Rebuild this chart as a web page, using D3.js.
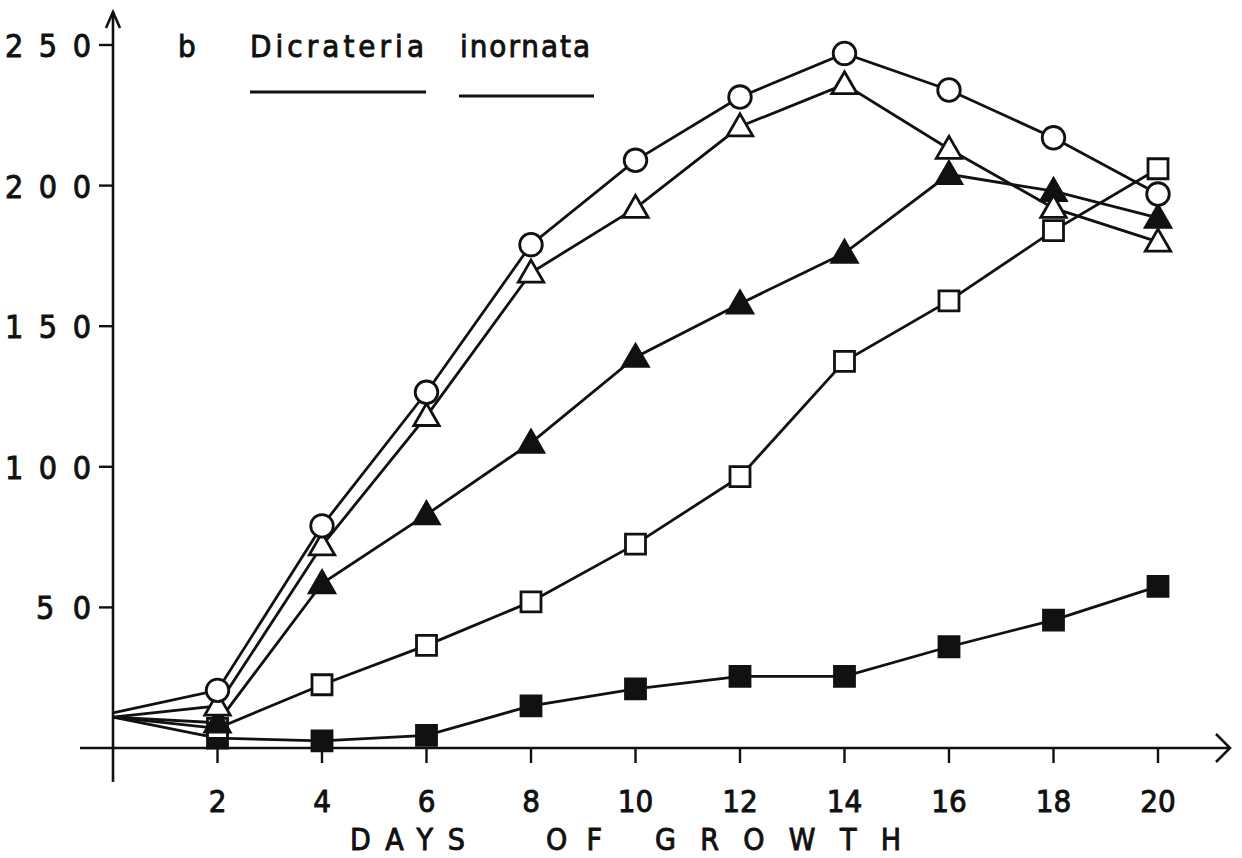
<!DOCTYPE html>
<html>
<head>
<meta charset="utf-8">
<script src="https://cdn.jsdelivr.net/npm/d3@7"></script>
<style>
	body { margin: 0; background: #fff; }
	svg { display: block; }
	text { font-family: "DejaVu Sans Condensed", "Liberation Sans Narrow", "DejaVu Sans", sans-serif; fill: #111; stroke: #111; stroke-width: 0.9; }
</style>
</head>
<body>
<div id="chart"></div>
<script>
// days of growth (0 = inoculum)
const days = [0, 2, 4, 6, 8, 10, 12, 14, 16, 18, 20];

const openCircle   = [12.5, 20.5, 79, 126.5, 179, 209, 231.5, 247, 234, 217, 197];
const openTriangle = [11, 15, 72, 118, 169, 192, 221, 236, 213, 192, 180];
const fullTriangle = [11, 9, 58.5, 83, 108.5, 139, 158, 176, 204, 198, 188.5];
const openSquare   = [11, 7, 22.5, 36.5, 52, 72.5, 96.5, 137.5, 159, 184, 206];
const fullSquare   = [11, 3.5, 2.5, 4.5, 15, 21, 25.5, 25.5, 36, 45.5, 57.5];

const xTicks = [2, 4, 6, 8, 10, 12, 14, 16, 18, 20];
const yTicks = [50, 100, 150, 200, 250];

const series = [
	{ name: 'full square', values: fullSquare, shape: d3.symbolSquare, fill: '#111' },
	{ name: 'open square', values: openSquare, shape: d3.symbolSquare, fill: '#fff' },
	{ name: 'full triangle', values: fullTriangle, shape: d3.symbolTriangle, fill: '#111' },
	{ name: 'open triangle', values: openTriangle, shape: d3.symbolTriangle, fill: '#fff' },
	{ name: 'open circle', values: openCircle, shape: d3.symbolCircle, fill: '#fff' }
];

const width = 1242, height = 858;
const ink = '#111';

const x = d3.scaleLinear().domain([0, 20]).range([113, 1158]);
const y = d3.scaleLinear().domain([0, 250]).range([748, 45]);

const svg = d3.select('#chart')
	.append('svg')
	.attr('width', width)
	.attr('height', height);

// axes lines with arrows
svg.append('line')
	.attr('x1', 80).attr('x2', 1230)
	.attr('y1', y(0)).attr('y2', y(0))
	.attr('stroke', ink).attr('stroke-width', 2.6);
svg.append('path')
	.attr('d', `M1216,${y(0) - 14} L1230,${y(0)} L1216,${y(0) + 14}`)
	.attr('fill', 'none').attr('stroke', ink).attr('stroke-width', 2.6);

svg.append('line')
	.attr('x1', x(0)).attr('x2', x(0))
	.attr('y1', 782).attr('y2', 12)
	.attr('stroke', ink).attr('stroke-width', 2.6);
svg.append('path')
	.attr('d', `M${x(0) - 7},28 L${x(0)},12 L${x(0) + 7},28`)
	.attr('fill', 'none').attr('stroke', ink).attr('stroke-width', 2.6);

// x axis ticks
const xAxis = svg.append('g').attr('transform', `translate(0,${y(0)})`);
xAxis.selectAll('line.tick')
	.data(xTicks)
	.enter()
	.append('line')
	.attr('class', 'tick')
	.attr('x1', d => x(d)).attr('x2', d => x(d))
	.attr('y1', 0).attr('y2', 15)
	.attr('stroke', ink).attr('stroke-width', 2.4);
xAxis.selectAll('text')
	.data(xTicks)
	.enter()
	.append('text')
	.attr('x', d => x(d))
	.attr('y', 64)
	.attr('text-anchor', 'middle')
	.attr('font-size', 31)
	.text(d => d);

// y axis ticks
const yAxis = svg.append('g').attr('transform', `translate(${x(0)},0)`);
yAxis.selectAll('line.tick')
	.data(yTicks)
	.enter()
	.append('line')
	.attr('class', 'tick')
	.attr('x1', -14).attr('x2', 0)
	.attr('y1', d => y(d)).attr('y2', d => y(d))
	.attr('stroke', ink).attr('stroke-width', 2.4);
yAxis.selectAll('text')
	.data(yTicks)
	.enter()
	.append('text')
	.attr('x', -22)
	.attr('y', d => y(d) + 12)
	.attr('text-anchor', 'end')
	.attr('font-size', 32)
	.attr('textLength', d => String(d).length === 3 ? 86 : 55)
	.attr('lengthAdjust', 'spacing')
	.text(d => d);

// axis title, three spaced words
const titleWords = [
	{ text: 'DAYS', x: 350, len: 115 },
	{ text: 'OF', x: 546, len: 56 },
	{ text: 'GROWTH', x: 655, len: 246 }
];
svg.selectAll('text.xtitle')
	.data(titleWords)
	.enter()
	.append('text')
	.attr('class', 'xtitle')
	.attr('x', d => d.x)
	.attr('y', 850)
	.attr('font-size', 30)
	.attr('textLength', d => d.len)
	.attr('lengthAdjust', 'spacing')
	.text(d => d.text);

// panel title
svg.append('text').attr('x', 178).attr('y', 57).attr('font-size', 31).text('b');
svg.append('text').attr('x', 250).attr('y', 57).attr('font-size', 31)
	.attr('textLength', 174).attr('lengthAdjust', 'spacing').text('Dicrateria');
svg.append('text').attr('x', 460).attr('y', 57).attr('font-size', 31)
	.attr('textLength', 130).attr('lengthAdjust', 'spacing').text('inornata');
svg.append('line').attr('x1', 250).attr('x2', 426).attr('y1', 92).attr('y2', 92).attr('stroke', ink).attr('stroke-width', 2.8);
svg.append('line').attr('x1', 459).attr('x2', 594).attr('y1', 96).attr('y2', 96).attr('stroke', ink).attr('stroke-width', 2.8);

// lines
const line = d3.line()
	.x((d, i) => x(days[i]))
	.y(d => y(d));

svg.append('g')
	.selectAll('path')
	.data(series)
	.enter()
	.append('path')
	.attr('d', d => line(d.values))
	.attr('fill', 'none')
	.attr('stroke', ink)
	.attr('stroke-width', 2.8);

// markers (skip day 0 start point)
const symbolSize = s => s === d3.symbolCircle ? 400 : s === d3.symbolSquare ? 400 : 280;

series.forEach(s => {
	svg.append('g')
		.selectAll('path')
		.data(s.values.slice(1).map((v, i) => ({ day: days[i + 1], v })))
		.enter()
		.append('path')
		.attr('d', d3.symbol().type(s.shape).size(symbolSize(s.shape)))
		.attr('transform', d => `translate(${x(d.day)},${y(d.v) + (s.shape === d3.symbolTriangle ? 2 : 0)})`)
		.attr('fill', s.fill)
		.attr('stroke', ink)
		.attr('stroke-width', 2.8);
});
</script>
</body>
</html>
